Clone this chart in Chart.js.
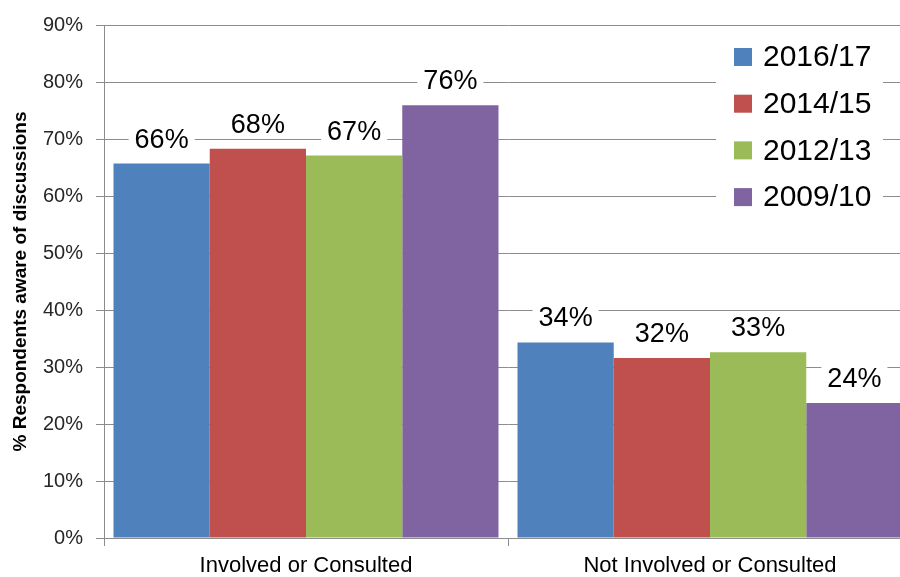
<!DOCTYPE html>
<html>
<head>
<meta charset="utf-8">
<script src="https://cdn.jsdelivr.net/npm/chart.js@4.4.0/dist/chart.umd.min.js"></script>
<style>
html, body { margin: 0; padding: 0; background: #fff; overflow: hidden; }
#wrap { width: 912px; height: 577px; }
</style>
</head>
<body>
<div id="wrap"><canvas id="myChart" width="912" height="577"></canvas></div>
<script>
// Chart data
const categories = ['Involved or Consulted', 'Not Involved or Consulted'];
const seriesNames = ['2016/17', '2014/15', '2012/13', '2009/10'];
const values1617 = [65.7, 34.3];
const values1415 = [68.3, 31.6];
const values1213 = [67.1, 32.6];
const values0910 = [75.9, 23.7];
const yMin = 0;
const yMax = 90;
const yStep = 10;

const seriesColors = ['#4F81BD', '#C0504D', '#9BBB59', '#8064A2'];
const gridColor = '#8c8c8c';
const fontFamily = '"Liberation Sans", Arial, sans-serif';

// Value labels above each bar, on a white box that hides the gridlines
const barLabels = {
    id: 'barLabels',
    afterDatasetsDraw(chart) {
        const ctx = chart.ctx;
        ctx.save();
        ctx.font = '27px ' + fontFamily;
        ctx.textAlign = 'center';
        ctx.textBaseline = 'alphabetic';
        chart.data.datasets.forEach((ds, i) => {
            chart.getDatasetMeta(i).data.forEach((bar, j) => {
                const txt = Math.round(ds.data[j]) + '%';
                const w = ctx.measureText(txt).width;
                const base = bar.y - 16;
                ctx.fillStyle = '#fff';
                ctx.fillRect(bar.x - w / 2 - 6, base - 25, w + 12, 31);
                ctx.fillStyle = '#000';
                ctx.fillText(txt, bar.x, base);
            });
        });
        ctx.restore();
    }
};

// Legend drawn inside the plot, top right
const insideLegend = {
    id: 'insideLegend',
    afterDraw(chart) {
        const ctx = chart.ctx;
        const x0 = 716, y0 = 32, boxW = 167, boxH = 190;
        ctx.save();
        ctx.fillStyle = '#fff';
        ctx.fillRect(x0, y0, boxW, boxH);
        ctx.font = '30px ' + fontFamily;
        ctx.textBaseline = 'middle';
        chart.data.datasets.forEach((ds, i) => {
            const cy = 57 + i * 46.7;
            ctx.fillStyle = ds.backgroundColor;
            ctx.fillRect(734, cy - 9, 18, 18);
            ctx.fillStyle = '#000';
            ctx.fillText(ds.label, 763, cy + 1);
        });
        ctx.restore();
    }
};

const datasetValues = [values1617, values1415, values1213, values0910];

new Chart(document.getElementById('myChart').getContext('2d'), {
    type: 'bar',
    data: {
        labels: categories,
        datasets: seriesNames.map((name, i) => ({
            label: name,
            data: datasetValues[i],
            backgroundColor: seriesColors[i],
            borderWidth: 0,
            barPercentage: 1.0,
            categoryPercentage: 0.953,
        })),
    },
    options: {
        responsive: false,
        animation: false,
        layout: { padding: { top: 25, right: 0, bottom: 0, left: 0 } },
        plugins: {
            legend: { display: false },
            tooltip: { enabled: false },
        },
        scales: {
            y: {
                min: yMin,
                max: yMax,
                ticks: {
                    stepSize: yStep,
                    callback: v => v + '%',
                    color: '#262626',
                    font: { family: fontFamily, size: 20 },
                    padding: 13,
                },
                grid: { color: gridColor, tickLength: 8 },
                border: { color: gridColor },
                title: {
                    display: true,
                    text: '% Respondents aware of discussions',
                    color: '#000',
                    font: { family: fontFamily, size: 19, weight: 'bold' },
                    padding: { top: 9, bottom: 0 },
                },
                afterFit: scale => { scale.width = 104; },
            },
            x: {
                ticks: {
                    color: '#000',
                    font: { family: fontFamily, size: 22 },
                    padding: 7,
                },
                grid: { color: gridColor, drawOnChartArea: false, tickLength: 8 },
                border: { color: gridColor },
                afterFit: scale => { scale.height = 39; },
            },
        },
    },
    plugins: [barLabels, insideLegend],
});
</script>
</body>
</html>
